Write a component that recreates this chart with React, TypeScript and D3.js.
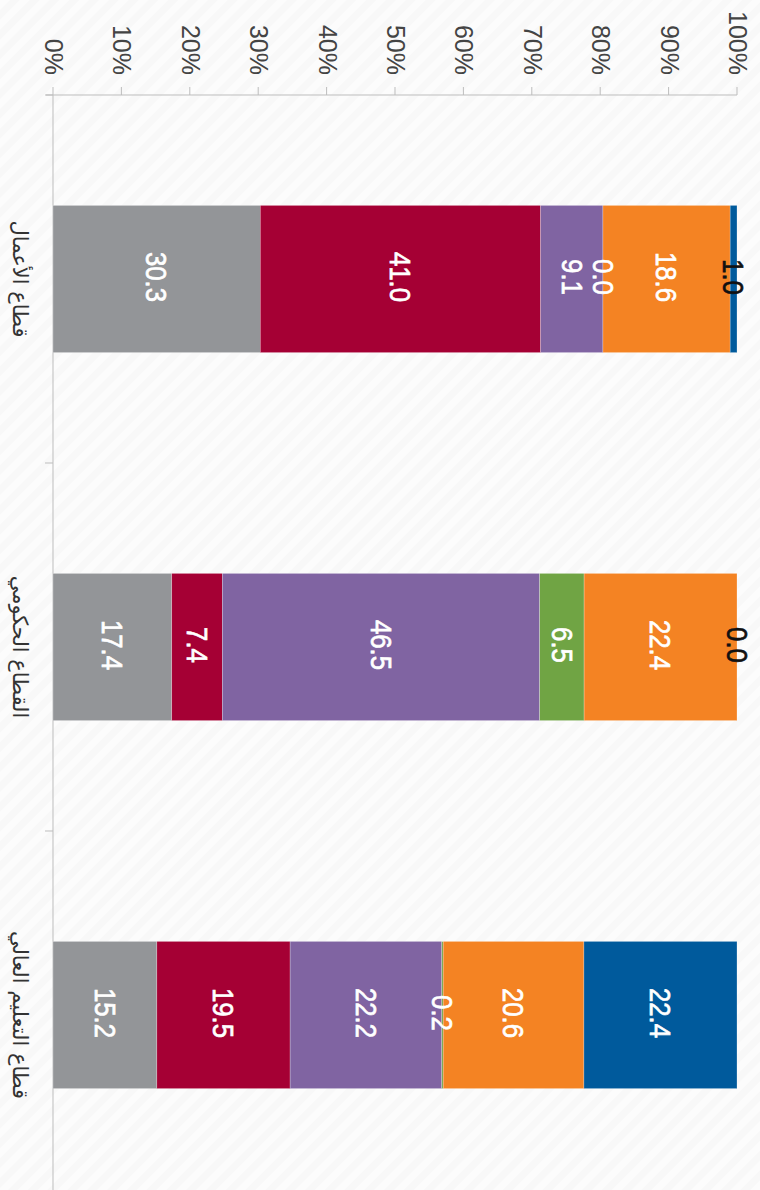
import React from "react";
import * as d3 from "d3";

const categories = ["قطاع الأعمال", "القطاع الحكومي", "قطاع التعليم العالي"];
const seriesNames = ["gray", "red", "purple", "green", "orange", "blue"];
const grayValues = [30.3, 17.4, 15.2];
const redValues = [41.0, 7.4, 19.5];
const purpleValues = [9.1, 46.5, 22.2];
const greenValues = [0.0, 6.5, 0.2];
const orangeValues = [18.6, 22.4, 20.6];
const blueValues = [1.0, 0.0, 22.4];
const seriesColors = ["#939598", "#A50034", "#8064A2", "#70A444", "#F48323", "#005A9C"];
const tickValues = [0, 0.1, 0.2, 0.3, 0.4, 0.5, 0.6, 0.7, 0.8, 0.9, 1.0];

const W = 760;
const H = 1190;

export default function App() {
  const allValues = [grayValues, redValues, purpleValues, greenValues, orangeValues, blueValues];
  const rows = categories.map((c, i) => {
    const r: any = { category: c };
    seriesNames.forEach((s, j) => (r[s] = allValues[j][i]));
    return r;
  });
  const stacked = d3.stack<any>().keys(seriesNames).offset(d3.stackOffsetExpand)(rows);

  const x = d3.scaleLinear().domain([0, 1]).range([53, 737]);
  const step = 368;
  const y = d3
    .scaleBand<string>()
    .domain(categories)
    .range([95, 95 + step * categories.length])
    .paddingInner(0.6)
    .paddingOuter(0.3);
  const fmtTick = d3.format(".0%");
  const fmtVal = d3.format(".1f");
  const axisColor = "#bdbdbd";
  const font = "'Liberation Sans', Arial, Helvetica, sans-serif";

  return (
    <svg
      width={W}
      height={H}
      style={{ position: "absolute", left: 0, top: 0, display: "block" }}
    >
      <defs>
        <pattern id="stripes" width="14" height="14" patternUnits="userSpaceOnUse" patternTransform="rotate(45)">
          <rect width="14" height="14" fill="#f8f8f8" />
          <rect width="7" height="14" fill="#fcfcfc" />
        </pattern>
      </defs>
      <rect width={W} height={H} fill="url(#stripes)" />

      {/* value axis (top) */}
      <line x1={46} x2={x(1)} y1={95} y2={95} stroke={axisColor} strokeWidth={1} />
      {tickValues.map((t) => (
        <g key={t}>
          <line x1={x(t)} x2={x(t)} y1={87} y2={95} stroke={axisColor} strokeWidth={1} />
          <text
            transform={`translate(${x(t) + 1},75) rotate(90)`}
            textAnchor="end"
            dominantBaseline="central"
            fontFamily={font}
            fontSize={25}
            fill="#444"
          >
            {fmtTick(t)}
          </text>
        </g>
      ))}

      {/* category axis (left) */}
      <line x1={53} x2={53} y1={95} y2={H} stroke={axisColor} strokeWidth={1} />
      {d3.range(categories.length + 1).map((i) => (
        <line key={i} x1={45} x2={53} y1={95 + i * step} y2={95 + i * step} stroke={axisColor} strokeWidth={1} />
      ))}
      {categories.map((c) => (
        <text
          key={c}
          transform={`translate(20,${(y(c) as number) + y.bandwidth() / 2}) rotate(90)`}
          textAnchor="middle"
          dominantBaseline="central"
          fontFamily="'DejaVu Sans', 'Noto Sans', sans-serif"
          fontSize={21}
          fill="#333"
          direction="rtl"
        >
          {c}
        </text>
      ))}

      {/* bars */}
      {stacked.map((layer, j) => (
        <g key={layer.key}>
          {layer.map((d, i) => (
            <rect
              key={i}
              x={x(d[0])}
              y={y(categories[i]) as number}
              width={Math.max(0, x(d[1]) - x(d[0]))}
              height={y.bandwidth()}
              fill={seriesColors[j]}
              stroke="rgba(255,255,255,0.5)"
              strokeWidth={0.5}
            />
          ))}
        </g>
      ))}
      {stacked.map((layer, j) => (
        <g key={"l" + layer.key}>
          {layer.map((d, i) => {
            const v = allValues[j][i];
            const cx = (x(d[0]) + x(d[1])) / 2;
            const cy = (y(categories[i]) as number) + y.bandwidth() / 2;
            const dark = seriesNames[j] === "blue" && v < 5;
            const col = dark ? "#111" : "#fff";
            return (
              <text
                key={i}
                transform={`translate(${cx},${cy - 2}) rotate(90) scale(0.86,1)`}
                textAnchor="middle"
                dominantBaseline="central"
                fontFamily={font}
                fontSize={30}
                fill={col}
                stroke={col}
                strokeWidth={0.7}
              >
                {fmtVal(v)}
              </text>
            );
          })}
        </g>
      ))}
    </svg>
  );
}
